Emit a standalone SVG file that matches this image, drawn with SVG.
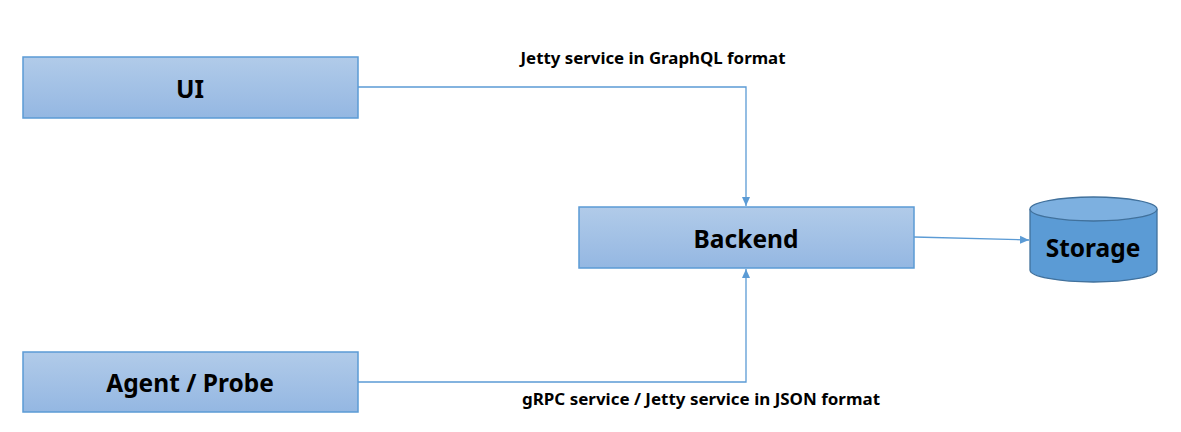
<svg xmlns="http://www.w3.org/2000/svg" width="1181" height="432" viewBox="0 0 1181 432">
<defs>
<linearGradient id="g" x1="0" y1="0" x2="0" y2="1">
<stop offset="0" stop-color="#B1CBE9"/>
<stop offset="1" stop-color="#94B7E2"/>
</linearGradient>
<marker id="ah" markerWidth="10" markerHeight="10" refX="9" refY="5" orient="auto" markerUnits="userSpaceOnUse">
<path d="M0,1 L9,5 L0,9 Z" fill="#5B9BD5"/>
</marker>
<style>
.box{fill:url(#g);stroke:#5B9BD5;stroke-width:1.5}
.t{font-family:"Noto Sans","Open Sans",sans-serif;font-weight:bold;font-size:24.5px;fill:#000;text-anchor:middle;dominant-baseline:central}
.lbl{font-family:"Noto Sans","Open Sans",sans-serif;font-weight:bold;font-size:15.5px;fill:#000;text-anchor:middle;dominant-baseline:central}
.c{fill:none;stroke:#5B9BD5;stroke-width:1.3}
</style>
</defs>
<rect width="1181" height="432" fill="#fff"/>
<g id="connectors">
<polyline class="c" points="358,87 746,87 746,206" marker-end="url(#ah)"/>
<polyline class="c" points="358,382 746,382 746,269" marker-end="url(#ah)"/>
<line class="c" x1="914" y1="237" x2="1029" y2="240" marker-end="url(#ah)"/>
<text class="lbl" x="653" y="58" textLength="265" lengthAdjust="spacingAndGlyphs">Jetty service in GraphQL format</text>
<text class="lbl" x="701" y="399" textLength="358" lengthAdjust="spacingAndGlyphs">gRPC service / Jetty service in JSON format</text>
</g>
<g id="ui">
<rect class="box" x="23" y="57" width="335" height="61"/>
<text class="t" x="190" y="88">UI</text>
</g>
<g id="backend">
<rect class="box" x="579" y="207" width="335" height="61"/>
<text class="t" x="746" y="238">Backend</text>
</g>
<g id="agent">
<rect class="box" x="23" y="352" width="335" height="60"/>
<text class="t" x="190" y="382">Agent / Probe</text>
</g>
<g id="storage">
<path d="M1030,209 L1030,270 A63.5,12 0 0 0 1157,270 L1157,209" fill="#5B9BD5" stroke="#41719C" stroke-width="1.3"/>
<ellipse cx="1093.5" cy="209" rx="63.5" ry="12" fill="#7DB0E0" stroke="#41719C" stroke-width="1.3"/>
<text class="t" x="1093" y="247">Storage</text>
</g>
</svg>
